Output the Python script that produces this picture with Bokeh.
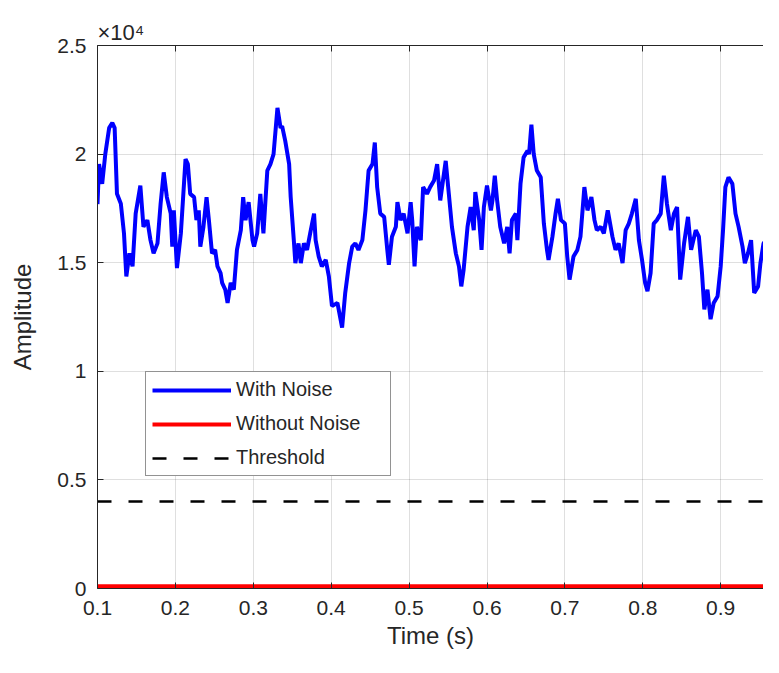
from bokeh.plotting import figure
from bokeh.models import Range1d, FixedTicker, LinearAxis, Legend, LegendItem
from bokeh.embed import file_html
from bokeh.resources import INLINE

# ---- data ----
time_noise = [0.100, 0.102, 0.106, 0.110, 0.115, 0.119, 0.122, 0.125, 0.130, 0.134, 0.137, 0.141, 0.145, 0.149,
              0.155, 0.159, 0.164, 0.168, 0.172, 0.177, 0.181, 0.185, 0.189, 0.194, 0.196, 0.198, 0.202, 0.207,
              0.213, 0.216, 0.219, 0.224, 0.227, 0.230, 0.232, 0.236, 0.240, 0.243, 0.247, 0.251, 0.254, 0.258,
              0.260, 0.264, 0.267, 0.271, 0.275, 0.279, 0.284, 0.287, 0.290, 0.294, 0.299, 0.301, 0.305, 0.309,
              0.313, 0.318, 0.322, 0.326, 0.331, 0.335, 0.337, 0.341, 0.346, 0.348, 0.352, 0.354, 0.358, 0.361,
              0.365, 0.369, 0.373, 0.378, 0.380, 0.384, 0.388, 0.393, 0.397, 0.401, 0.408, 0.414, 0.418, 0.423,
              0.427, 0.431, 0.435, 0.440, 0.444, 0.448, 0.453, 0.456, 0.459, 0.463, 0.468, 0.472, 0.474, 0.478,
              0.483, 0.485, 0.489, 0.493, 0.498, 0.502, 0.504, 0.507, 0.510, 0.515, 0.518, 0.523, 0.527, 0.532,
              0.536, 0.540, 0.547, 0.551, 0.555, 0.560, 0.564, 0.567, 0.570, 0.575, 0.579, 0.583, 0.585, 0.590,
              0.593, 0.596, 0.600, 0.605, 0.607, 0.610, 0.613, 0.617, 0.622, 0.626, 0.629, 0.632, 0.637, 0.639,
              0.643, 0.647, 0.652, 0.654, 0.657, 0.660, 0.664, 0.669, 0.673, 0.677, 0.679, 0.684, 0.688, 0.691,
              0.695, 0.700, 0.703, 0.706, 0.711, 0.716, 0.720, 0.725, 0.729, 0.734, 0.738, 0.741, 0.746, 0.750,
              0.755, 0.761, 0.765, 0.769, 0.774, 0.778, 0.782, 0.786, 0.791, 0.795, 0.799, 0.803, 0.806, 0.810,
              0.814, 0.818, 0.823, 0.827, 0.831, 0.836, 0.840, 0.844, 0.848, 0.853, 0.858, 0.862, 0.868, 0.872,
              0.876, 0.879, 0.883, 0.887, 0.891, 0.896, 0.900, 0.903, 0.906, 0.910, 0.915, 0.919, 0.923, 0.928,
              0.931, 0.935, 0.939, 0.943, 0.948, 0.951, 0.955, 0.958, 0.962, 0.966, 0.970, 0.976]
amp_noise = [17700, 19540, 18630, 20000, 21210, 21440, 21210, 18170, 17710, 16350, 14370, 15430, 14830, 17260,
             18550, 16650, 16960, 16040, 15430, 15890, 17710, 19160, 18020, 17260, 15740, 17410, 14750, 16350,
             19770, 19540, 18170, 18020, 16960, 17410, 15740, 16650, 18020, 16960, 15430, 15590, 14830, 14520,
             14070, 13760, 13150, 14070, 13760, 15590, 16500, 18020, 16960, 17790, 16040, 15740, 16350, 18170,
             16350, 19240, 19540, 20000, 22130, 21210, 21290, 20610, 19540, 18020, 16040, 14980, 15890, 14980,
             15890, 15590, 16350, 17260, 16040, 15280, 14830, 15130, 14370, 13000, 13150, 12010, 13610, 14980,
             15740, 15890, 15590, 16040, 17410, 19240, 19540, 20530, 18480, 17260, 17110, 15590, 14900, 16200,
             16650, 17790, 16960, 17260, 16350, 17790, 16960, 14830, 16650, 16040, 18480, 18170, 18480, 18780,
             19540, 17870, 19690, 18170, 16650, 15430, 14830, 13910, 14680, 16650, 17560, 16500, 18250, 16960,
             15590, 17560, 18550, 17410, 17870, 19010, 17870, 16650, 15890, 16650, 15430, 16960, 17260, 16040,
             18630, 19850, 20150, 20000, 21360, 20000, 19240, 18930, 16800, 15590, 15130, 16200, 17260, 17940,
             16960, 16800, 15280, 14220, 15280, 15590, 16200, 18480, 17410, 18020, 16960, 16500, 16650, 16350,
             17410, 16200, 15590, 15890, 14980, 16500, 16800, 17260, 17940, 16040, 15130, 14070, 13690, 14520,
             16800, 16960, 17260, 19010, 17710, 16500, 17260, 17560, 14220, 15890, 17110, 15590, 16500, 16200,
             14520, 12850, 13760, 12400, 13150, 13460, 14830, 16500, 18480, 18930, 18630, 17260, 16650, 15740,
             14980, 15430, 16040, 13610, 13910, 14980, 15890, 16040, 17870, 17260, 16650, 15890]

time_clean = [0.1, 0.2, 0.3, 0.4, 0.5, 0.6, 0.7, 0.8, 0.9, 1.0]
amp_clean = [100, 100, 100, 100, 100, 100, 100, 100, 100, 100]

time_thresh = [0.1, 1.0]
amp_thresh = [4000, 4000]

x_ticks = [0.1, 0.2, 0.3, 0.4, 0.5, 0.6, 0.7, 0.8, 0.9]
y_ticks = [0, 5000, 10000, 15000, 20000, 25000]
y_tick_labels = ["0", "0.5", "1", "1.5", "2", "2.5"]
exponent_text = "\u00d710\u2074"

FONT = "Liberation Sans"
DARK = "#262626"

p = figure(width=763, height=657,
           x_range=Range1d(0.1, 0.1 + 666 / 779), y_range=Range1d(0, 25000),
           output_backend="svg", toolbar_location=None,
           min_border_left=97, min_border_top=45, min_border_bottom=69, min_border_right=0)
p.outline_line_color = None
p.background_fill_color = "white"

r_noise = p.line(time_noise, amp_noise, line_color="#0000ff", line_width=4)
r_clean = p.line(time_clean, amp_clean, line_color="#ff0000", line_width=4)
r_thr = p.line(time_thresh, amp_thresh, line_color="black", line_width=2.5, line_dash="14 17")

for ax in (p.xaxis[0], p.yaxis[0]):
    ax.axis_line_color = DARK
    ax.major_tick_line_color = DARK
    ax.major_tick_in = 6
    ax.major_tick_out = 0
    ax.minor_tick_line_color = None
    ax.major_label_text_font = FONT
    ax.major_label_text_font_size = "21px"
    ax.major_label_text_color = DARK
    ax.axis_label_text_font = FONT
    ax.axis_label_text_font_size = "24px"
    ax.axis_label_text_font_style = "normal"
    ax.axis_label_text_color = DARK

p.xaxis.ticker = FixedTicker(ticks=x_ticks)
p.xaxis.major_label_overrides = {t: f"{t:.1f}" for t in x_ticks}
p.xaxis.axis_label = "Time (s)"
p.xaxis.major_label_standoff = 12
p.xaxis.axis_label_standoff = 4

p.yaxis.ticker = FixedTicker(ticks=y_ticks)
p.yaxis.major_label_overrides = dict(zip(y_ticks, y_tick_labels))
p.yaxis.axis_label = "Amplitude"
p.yaxis.major_label_standoff = 11
p.yaxis.axis_label_standoff = 18

top = LinearAxis(ticker=FixedTicker(ticks=x_ticks), axis_line_color=DARK,
                 major_tick_line_color=DARK, major_tick_in=6, major_tick_out=0,
                 minor_tick_line_color=None, major_label_text_color=None,
                 major_label_text_font_size="0px")
p.add_layout(top, "above")

p.title.text = exponent_text
p.title.align = "left"
p.title.offset = 0
p.title.standoff = 2
p.title.text_font = FONT
p.title.text_font_size = "22px"
p.title.text_font_style = "normal"
p.title.text_color = DARK

p.xgrid.ticker = FixedTicker(ticks=x_ticks)
p.ygrid.ticker = FixedTicker(ticks=y_ticks)
for g in (p.xgrid[0], p.ygrid[0]):
    g.grid_line_color = DARK
    g.grid_line_alpha = 0.15

legend = Legend(items=[LegendItem(label="With Noise", renderers=[r_noise]),
                       LegendItem(label="Without Noise", renderers=[r_clean]),
                       LegendItem(label="Threshold", renderers=[r_thr])],
                location=(48, 112))
legend.border_line_color = DARK
legend.border_line_width = 1
legend.background_fill_color = "white"
legend.background_fill_alpha = 1
legend.label_text_font = FONT
legend.label_text_font_size = "20px"
legend.label_text_color = DARK
legend.glyph_width = 79
legend.glyph_height = 22
legend.label_height = 22
legend.label_width = 148
legend.spacing = 11
legend.padding = 6
legend.margin = 0
legend.label_standoff = 5
p.add_layout(legend, "center")

open("out.html", "w").write(file_html(p, INLINE))
